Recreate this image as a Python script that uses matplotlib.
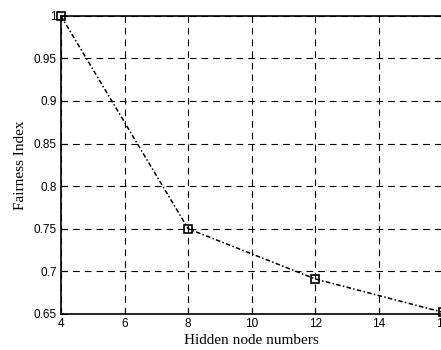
import matplotlib.pyplot as plt

# data
hidden_nodes = [4, 8, 12, 16]
fairness = [1.0, 0.75, 0.691, 0.652]

x_ticks = [4, 6, 8, 10, 12, 14, 16]
y_ticks = [0.65, 0.7, 0.75, 0.8, 0.85, 0.9, 0.95, 1]
y_labels = ["0.65", "0.7", "0.75", "0.8", "0.85", "0.9", "0.95", "1"]

fig = plt.figure(figsize=(4.41, 3.5), dpi=100)
ax = fig.add_axes([0.138, 0.103, 0.866, 0.852])

ax.plot(hidden_nodes, fairness, color="black", linewidth=1.1,
        dashes=(3, 1.5, 1, 1.5), clip_on=False, zorder=5,
        marker="s", markersize=6, markerfacecolor="none", markeredgewidth=1.2)

ax.set_xlim(4, 16)
ax.set_ylim(0.65, 1)
ax.set_xticks(x_ticks)
ax.set_yticks(y_ticks)
ax.set_yticklabels(y_labels)
ax.tick_params(direction="in", length=4.5, labelsize=8.5, pad=3)
for lab in ax.get_xticklabels() + ax.get_yticklabels():
    lab.set_family("Liberation Sans")

ax.grid(True, color="black", linestyle=(0, (6, 4.5)), linewidth=0.8)
for s in ax.spines.values():
    s.set_linewidth(1.2)

ax.set_xlabel("Hidden node numbers", family="Liberation Serif", fontsize=11, labelpad=3)
ax.set_ylabel("Fairness Index", family="Liberation Serif", fontsize=11, labelpad=5)

fig.savefig("out.png", dpi=100)
